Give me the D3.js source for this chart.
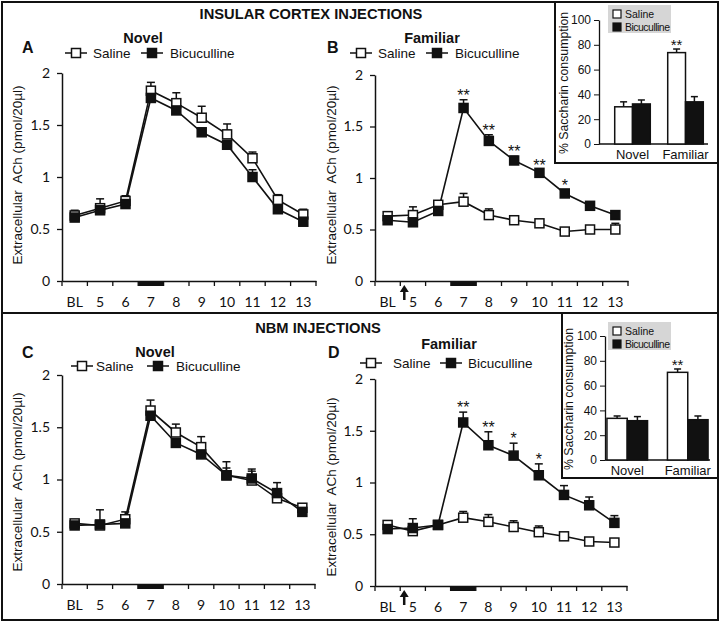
<!DOCTYPE html>
<html><head><meta charset="utf-8">
<script src="https://cdn.jsdelivr.net/npm/d3@7"></script>
<style>
html,body{margin:0;padding:0;background:#fff;}
text{font-family:"Liberation Sans",Arial,sans-serif;fill:#111;}
.tick text{font-family:Lato,"Liberation Sans",sans-serif;}
</style></head>
<body><svg id="c" width="720" height="622"></svg>
<script>
// ---------- data ----------
const categories = ["BL","5","6","7","8","9","10","11","12","13"];
const stimCategory = "7";
const yTicks = [0, 0.5, 1, 1.5, 2];
const seriesNames = ["Saline", "Bicuculline"];

// Panel A: insular cortex, novel
const aSaline    = [0.63, 0.70, 0.77, 1.83, 1.71, 1.57, 1.41, 1.18, 0.78, 0.64];
const aSalineErr = [0.05, 0.09, 0.05, 0.08, 0.10, 0.11, 0.10, 0.06, 0.05, 0.05];
const aBic       = [0.61, 0.68, 0.74, 1.76, 1.64, 1.43, 1.31, 1.00, 0.69, 0.57];
const aBicErr    = [0.03, 0.04, 0.03, 0.03, 0.03, 0.03, 0.03, 0.07, 0.03, 0.03];
// Panel B: insular cortex, familiar
const bSaline    = [0.63, 0.64, 0.74, 0.77, 0.64, 0.59, 0.56, 0.48, 0.50, 0.50];
const bSalineErr = [0.04, 0.08, 0.03, 0.08, 0.06, 0.04, 0.03, 0.03, 0.03, 0.06];
const bBic       = [0.59, 0.57, 0.68, 1.68, 1.36, 1.17, 1.05, 0.85, 0.73, 0.64];
const bBicErr    = [0.03, 0.03, 0.03, 0.08, 0.06, 0.04, 0.03, 0.03, 0.03, 0.03];
const bStars     = ["", "", "", "**", "**", "**", "**", "*", "", ""];
// Panel C: NBM, novel
const cSaline    = [0.58, 0.56, 0.62, 1.66, 1.45, 1.31, 1.04, 0.99, 0.82, 0.73];
const cSalineErr = [0.03, 0.15, 0.07, 0.10, 0.08, 0.10, 0.13, 0.11, 0.05, 0.03];
const cBic       = [0.56, 0.57, 0.58, 1.61, 1.35, 1.24, 1.04, 1.01, 0.87, 0.69];
const cBicErr    = [0.03, 0.03, 0.03, 0.03, 0.03, 0.03, 0.07, 0.07, 0.10, 0.03];
// Panel D: NBM, familiar
const dSaline    = [0.59, 0.53, 0.59, 0.66, 0.62, 0.57, 0.52, 0.48, 0.43, 0.42];
const dSalineErr = [0.03, 0.03, 0.03, 0.06, 0.07, 0.06, 0.06, 0.03, 0.03, 0.03];
const dBic       = [0.55, 0.56, 0.59, 1.58, 1.36, 1.26, 1.07, 0.88, 0.78, 0.61];
const dBicErr    = [0.03, 0.09, 0.03, 0.10, 0.13, 0.12, 0.11, 0.09, 0.08, 0.07];
const dStars     = ["", "", "", "**", "**", "*", "*", "", "", ""];

// Insets: % saccharin consumption
const insetGroups = ["Novel", "Familiar"];
const insetTicks = [0, 20, 40, 60, 80, 100];
const topInsetSaline    = [30.0, 73.7];
const topInsetSalineErr = [4.0, 2.9];
const topInsetBic       = [32.3, 34.0];
const topInsetBicErr    = [3.2, 4.2];
const topInsetStars     = ["", "**"];
const botInsetSaline    = [33.6, 70.7];
const botInsetSalineErr = [1.9, 2.7];
const botInsetBic       = [31.7, 32.5];
const botInsetBicErr    = [3.3, 3.0];
const botInsetStars     = ["", "**"];

const yLabelText = "Extracellular\u00a0 ACh (pmol/20µl)";

// ---------- drawing ----------
const svg = d3.select("#c");

// outer frames
svg.append("rect").attr("x",2).attr("y",2).attr("width",716).attr("height",311)
  .attr("fill","none").attr("stroke","#111").attr("stroke-width",2);
svg.append("rect").attr("x",2).attr("y",313).attr("width",716).attr("height",307)
  .attr("fill","none").attr("stroke","#111").attr("stroke-width",2);

svg.append("text").attr("x",311).attr("y",19).attr("text-anchor","middle")
  .attr("font-weight","bold").attr("font-size",14.7).text("INSULAR CORTEX INJECTIONS");
svg.append("text").attr("x",318).attr("y",333).attr("text-anchor","middle")
  .attr("font-weight","bold").attr("font-size",14.7).text("NBM INJECTIONS");

function legendSymbol(g, cx, cy, filled){
  g.append("line").attr("x1",cx-11).attr("x2",cx+11).attr("y1",cy).attr("y2",cy)
    .attr("stroke","#111").attr("stroke-width",1.5);
  g.append("rect").attr("x",cx-4.5).attr("y",cy-4.5).attr("width",9).attr("height",9)
    .attr("fill",filled?"#111":"#fff").attr("stroke","#111").attr("stroke-width",1.5);
}

function linePanel(cfg){
  const g = svg.append("g");
  const x = d3.scaleBand().domain(categories).range([cfg.x0, cfg.x1]);
  const y = d3.scaleLinear().domain([0, 2]).range([cfg.yb, cfg.yt]);
  const cx = c => x(c) + x.bandwidth()/2;

  // y axis
  const ya = g.append("g").attr("transform",`translate(${cfg.x0},0)`)
    .call(d3.axisLeft(y).tickValues(yTicks).tickSize(5).tickSizeOuter(0).tickPadding(7)
      .tickFormat(d => String(d)));
  ya.select(".domain").attr("stroke","#111").attr("stroke-width",1.5);
  ya.selectAll(".tick line").attr("stroke","#111").attr("stroke-width",1.3);
  ya.selectAll(".tick text").attr("font-size",14).attr("fill","#222");

  // x axis
  const xa = g.append("g").attr("transform",`translate(0,${cfg.yb})`)
    .call(d3.axisBottom(x).tickSize(0).tickSizeOuter(0).tickPadding(16));
  xa.select(".domain").attr("stroke","#111").attr("stroke-width",1.5);
  xa.selectAll(".tick text").attr("font-size",14).attr("fill","#222");
  const bounds = categories.map(c => x(c)).concat([x.range()[1]]);
  g.selectAll(".bt").data(bounds).enter().append("line")
    .attr("x1",d=>d).attr("x2",d=>d).attr("y1",cfg.yb).attr("y2",cfg.yb+5)
    .attr("stroke","#111").attr("stroke-width",1.3);
  // stimulus bar
  g.append("rect").attr("x",x(stimCategory)).attr("y",cfg.yb).attr("width",x.bandwidth())
    .attr("height",5).attr("fill","#111");

  const series = [
    {v: cfg.sal, e: cfg.salErr, filled:false},
    {v: cfg.bic, e: cfg.bicErr, filled:true}
  ];
  // error bars
  series.forEach(s => {
    categories.forEach((c,i) => {
      const top = y(s.v[i] + s.e[i]);
      g.append("line").attr("x1",cx(c)).attr("x2",cx(c)).attr("y1",y(s.v[i])).attr("y2",top)
        .attr("stroke","#111").attr("stroke-width",1.5);
      g.append("line").attr("x1",cx(c)-4).attr("x2",cx(c)+4).attr("y1",top).attr("y2",top)
        .attr("stroke","#111").attr("stroke-width",1.5);
    });
  });
  // lines
  const line = d3.line().x((d,i) => cx(categories[i])).y(d => y(d));
  series.forEach(s => {
    g.append("path").attr("d", line(s.v)).attr("fill","none")
      .attr("stroke","#111").attr("stroke-width",1.6);
  });
  // markers
  series.forEach(s => {
    g.selectAll(null).data(s.v).enter().append("rect")
      .attr("x",(d,i)=>cx(categories[i])-4.5).attr("y",d=>y(d)-4.5)
      .attr("width",9).attr("height",9)
      .attr("fill",s.filled?"#111":"#fff").attr("stroke","#111").attr("stroke-width",1.5);
  });
  // significance stars
  if (cfg.stars){
    cfg.stars.forEach((st,i) => {
      if (!st) return;
      g.append("text").attr("x",cx(categories[i])).attr("y",y(cfg.bic[i]+cfg.bicErr[i]) + 1)
        .attr("text-anchor","middle").attr("font-size",16).text(st);
    });
  }
  // arrow (injection time) between BL and 5
  if (cfg.arrow){
    const ax = x(categories[1]) + 4;
    g.append("line").attr("x1",ax).attr("x2",ax).attr("y1",cfg.yb+19).attr("y2",cfg.yb+9)
      .attr("stroke","#111").attr("stroke-width",2.5);
    g.append("path").attr("d",`M${ax-4.5},${cfg.yb+11}L${ax},${cfg.yb+4}L${ax+4.5},${cfg.yb+11}Z`)
      .attr("fill","#111");
  }
  // y label
  g.append("text").attr("transform",`translate(${cfg.ylx},${cfg.yly}) rotate(-90)`)
    .attr("text-anchor","middle").attr("font-size",13.5).text(yLabelText);
  // panel letter, title, legend
  g.append("text").attr("x",cfg.letterX).attr("y",cfg.letterY).attr("font-weight","bold")
    .attr("font-size",16).text(cfg.letter);
  g.append("text").attr("x",cfg.titleX).attr("y",cfg.titleY).attr("text-anchor","middle")
    .attr("font-weight","bold").attr("font-size",14.5).text(cfg.title);
  legendSymbol(g, cfg.lg[0], cfg.legY, false);
  g.append("text").attr("x",cfg.lg[1]).attr("y",cfg.legY+4.5).attr("font-size",13.5).text(seriesNames[0]);
  legendSymbol(g, cfg.lg[2], cfg.legY, true);
  g.append("text").attr("x",cfg.lg[3]).attr("y",cfg.legY+4.5).attr("font-size",13.5).text(seriesNames[1]);
}

linePanel({x0:62, x1:316, yt:73, yb:281, sal:aSaline, salErr:aSalineErr, bic:aBic, bicErr:aBicErr,
  ylx:22, yly:175, letter:"A", letterX:22, letterY:53, title:"Novel", titleX:143, titleY:43,
  legY:53, lg:[76,93,152,170]});
linePanel({x0:375, x1:628, yt:75, yb:281, sal:bSaline, salErr:bSalineErr, bic:bBic, bicErr:bBicErr,
  stars:bStars, arrow:true,
  ylx:336, yly:175, letter:"B", letterX:327, letterY:53, title:"Familiar", titleX:432, titleY:43,
  legY:53, lg:[361,378,437,455]});
linePanel({x0:62, x1:315, yt:375, yb:584, sal:cSaline, salErr:cSalineErr, bic:cBic, bicErr:cBicErr,
  ylx:22, yly:482, letter:"C", letterX:22, letterY:358, title:"Novel", titleX:155, titleY:357,
  legY:366, lg:[82,96,158,176]});
linePanel({x0:375, x1:627, yt:379, yb:586, sal:dSaline, salErr:dSalineErr, bic:dBic, bicErr:dBicErr,
  stars:dStars, arrow:true,
  ylx:336, yly:487, letter:"D", letterX:328, letterY:358, title:"Familiar", titleX:449, titleY:349,
  legY:363, lg:[371,393,451,468]});

function inset(cfg){
  const g = svg.append("g");
  g.append("rect").attr("x",cfg.bx).attr("y",cfg.by).attr("width",cfg.bw).attr("height",cfg.bh)
    .attr("fill","#fff").attr("stroke","#111").attr("stroke-width",2);
  const y = d3.scaleLinear().domain([0,100]).range([cfg.yb, cfg.yt]);
  const x = d3.scaleBand().domain(insetGroups).range([cfg.gx0, cfg.gx1]);
  const xi = d3.scaleBand().domain(seriesNames).range([0, x.bandwidth()]).paddingOuter(cfg.pad);
  const ya = g.append("g").attr("transform",`translate(${cfg.x0},0)`)
    .call(d3.axisLeft(y).tickValues(insetTicks).tickSize(5).tickSizeOuter(0).tickPadding(3));
  ya.select(".domain").attr("stroke","#111").attr("stroke-width",1.3);
  ya.selectAll(".tick line").attr("stroke","#111");
  ya.selectAll(".tick text").attr("font-size",12).attr("fill","#222")
    .style("font-family","'Liberation Sans',Arial,sans-serif");
  g.append("line").attr("x1",cfg.x0).attr("x2",cfg.x1).attr("y1",cfg.yb).attr("y2",cfg.yb)
    .attr("stroke","#111").attr("stroke-width",1.3);
  const series = [
    {name:seriesNames[0], v:cfg.sal, e:cfg.salErr, fill:"#fff"},
    {name:seriesNames[1], v:cfg.bic, e:cfg.bicErr, fill:"#111"}
  ];
  series.forEach(s => {
    insetGroups.forEach((grp,i) => {
      const bx = x(grp) + xi(s.name), bw = xi.bandwidth(), c = bx + bw/2;
      const top = y(s.v[i] + s.e[i]);
      g.append("line").attr("x1",c).attr("x2",c).attr("y1",y(s.v[i])).attr("y2",top)
        .attr("stroke","#111").attr("stroke-width",1.5);
      g.append("line").attr("x1",c-3.5).attr("x2",c+3.5).attr("y1",top).attr("y2",top)
        .attr("stroke","#111").attr("stroke-width",1.5);
      g.append("rect").attr("x",bx).attr("y",y(s.v[i])).attr("width",bw)
        .attr("height",cfg.yb - y(s.v[i])).attr("fill",s.fill).attr("stroke","#111").attr("stroke-width",1.5);
    });
  });
  cfg.stars.forEach((st,i) => {
    if (!st) return;
    const c = x(insetGroups[i]) + xi(seriesNames[0]) + xi.bandwidth()/2;
    g.append("text").attr("x",c).attr("y",y(cfg.sal[i]+cfg.salErr[i]) + 1).attr("text-anchor","middle")
      .attr("font-size",15).text(st);
  });
  insetGroups.forEach(grp => {
    g.append("text").attr("x",x(grp)+x.bandwidth()/2).attr("y",cfg.yb+15).attr("text-anchor","middle")
      .attr("font-size",13).text(grp);
  });
  g.append("text").attr("transform",`translate(${cfg.ylx},${(cfg.yt+cfg.yb)/2 + 1}) rotate(-90)`)
    .attr("text-anchor","middle").attr("font-size",12.3).text("% Saccharin consumption");
  // legend
  g.append("rect").attr("x",cfg.lx).attr("y",cfg.ly).attr("width",63).attr("height",28).attr("fill","#d6d6d6");
  g.append("rect").attr("x",cfg.lx+5).attr("y",cfg.ly+5).attr("width",8).attr("height",8)
    .attr("fill","#fff").attr("stroke","#111").attr("stroke-width",1.2);
  g.append("rect").attr("x",cfg.lx+5).attr("y",cfg.ly+18).attr("width",8).attr("height",8)
    .attr("fill","#111").attr("stroke","#111").attr("stroke-width",1.2);
  g.append("text").attr("x",cfg.lx+17).attr("y",cfg.ly+12.5).attr("font-size",10.5).text(seriesNames[0]);
  g.append("text").attr("x",cfg.lx+17).attr("y",cfg.ly+25.5).attr("font-size",10.5)
    .attr("textLength",45).text(seriesNames[1]);
}

inset({bx:555, by:2, bw:163, bh:161, x0:599, x1:708, yt:20, yb:144, gx0:606, gx1:712, pad:0.49,
  sal:topInsetSaline, salErr:topInsetSalineErr, bic:topInsetBic, bicErr:topInsetBicErr,
  stars:topInsetStars, ylx:568, lx:608, ly:5});
inset({bx:562, by:313, bw:156, bh:165, x0:605, x1:710, yt:336, yb:460, gx0:597, gx1:718, pad:0.49,
  sal:botInsetSaline, salErr:botInsetSalineErr, bic:botInsetBic, bicErr:botInsetBicErr,
  stars:botInsetStars, ylx:573, lx:608, ly:322});
</script></body></html>
